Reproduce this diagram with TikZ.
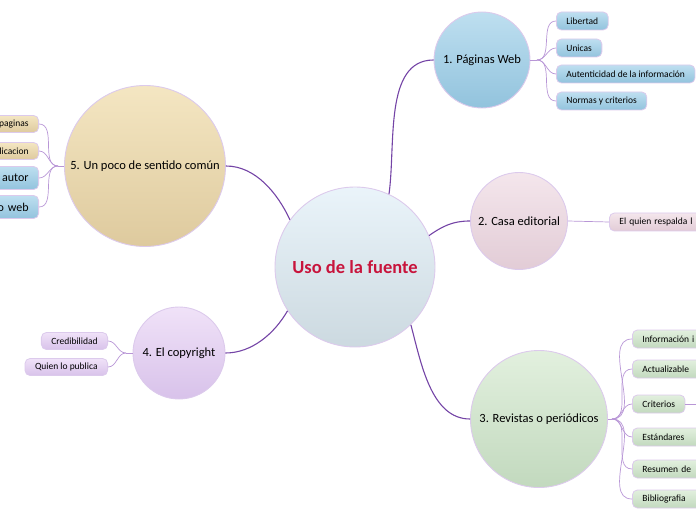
\documentclass[tikz,border=0pt]{standalone}
\usepackage{fontspec}
\setmainfont{Carlito}
\definecolor{mainline}{HTML}{7444A6}
\definecolor{leafline}{HTML}{B896D6}
\definecolor{rim}{HTML}{DCCAEC}
\definecolor{title}{HTML}{C8143C}
\tikzset{
  hub/.style={circle, draw=rim, line width=0.9pt, align=center, font=\fontsize{12.5}{14}\selectfont, text=black},
  centerhub/.style={hub, top color=cA, bottom color=cB},
  leafbox/.style={rounded corners=5pt, draw=rim, line width=0.8pt, inner xsep=10pt, inner ysep=0pt, minimum height=18pt, font=\fontsize{9.5}{10}\selectfont},
  blueleaf/.style={leafbox, top color=bA, bottom color=bB},
  pinkleaf/.style={leafbox, top color=pA, bottom color=pB},
  greenleaf/.style={leafbox, top color=gA, bottom color=gB},
  lavleaf/.style={leafbox, top color=lA, bottom color=lB},
  tanleaf/.style={leafbox, top color=tA, bottom color=tB},
  trunk/.style={draw=mainline, line width=1.1pt},
  twig/.style={draw=leafline, line width=0.7pt},
}
\definecolor{cA}{HTML}{EAF4FA}\definecolor{cB}{HTML}{CCD9E0}
\definecolor{bA}{HTML}{BEDFF0}\definecolor{bB}{HTML}{92C3DD}
\definecolor{pA}{HTML}{F4E6EC}\definecolor{pB}{HTML}{E2CCD6}
\definecolor{gA}{HTML}{E2F0DE}\definecolor{gB}{HTML}{C2D9BE}
\definecolor{lA}{HTML}{F0E2F8}\definecolor{lB}{HTML}{D8C2EA}
\definecolor{tA}{HTML}{F4E6C2}\definecolor{tB}{HTML}{DECA9E}
\begin{document}
\begin{tikzpicture}[x=1pt,y=1pt]
\useasboundingbox (0,0) rectangle (696,520);
\clip (0,0) rectangle (696,520);
% main nodes
\node[centerhub, minimum size=160pt, font=\bfseries\fontsize{18.5}{20}\selectfont, text=title] (c) at (355,253) {Uso de la fuente};
\node[hub, minimum size=96pt, top color=bA, bottom color=bB] (n1) at (482,460) {1. Páginas Web};
\node[hub, minimum size=97pt, top color=pA, bottom color=pB] (n2) at (519,299) {2. Casa editorial};
\node[hub, minimum size=137pt, top color=gA, bottom color=gB] (n3) at (539,101) {3. Revistas o periódicos};
\node[hub, minimum size=92pt, top color=lA, bottom color=lB] (n4) at (179,167) {4. El copyright};
\node[hub, minimum size=161pt, top color=tA, bottom color=tB] (n5) at (145,354) {5. Un poco de sentido común};
% trunks
\draw[trunk] (c.65.7) to[out=82,in=180,looseness=0.9] (n1.west);
\draw[trunk] (c.23) to[out=35,in=180] (n2.west);
\draw[trunk] (c.-46) to[out=-75,in=180,looseness=0.9] (n3.west);
\draw[trunk] (c.144) to[out=115,in=0,looseness=0.9] (n5.east);
\draw[trunk] (c.213) to[out=240,in=0,looseness=0.9] (n4.east);
% leaves of 1
\node[blueleaf, anchor=west] (a1) at (556,499) {Libertad};
\node[blueleaf, anchor=west] (a2) at (556,472) {Unicas};
\node[blueleaf, anchor=west] (a3) at (556,446) {Autenticidad de la información};
\node[blueleaf, anchor=west] (a4) at (556,419) {Normas y criterios};
\coordinate (j1) at (537,460);
\draw[twig] (n1.east) -- (j1);
\foreach \l in {a1,a2,a3,a4} \draw[twig] (j1) to[out=0,in=180] (\l.west);
% leaf of 2
\node[pinkleaf, anchor=west, text width=90pt, align=left] (b1) at (609,298) {El quien respalda l};
\draw[twig] (n2.east) -- (b1.west);
% leaves of 3
\node[greenleaf, anchor=west, text width=70pt, align=left] (d1) at (632,181) {Información i};
\node[greenleaf, anchor=west, text width=70pt, align=left] (d2) at (632,151) {Actualizable};
\node[greenleaf, anchor=west] (d3) at (632,116) {Criterios};
\node[greenleaf, anchor=west, text width=70pt, align=left] (d4) at (632,83) {Estándares};
\node[greenleaf, anchor=west, text width=70pt, align=left] (d5) at (632,51) {Resumen de};
\node[greenleaf, anchor=west, text width=70pt, align=left] (d6) at (632,21) {Bibliografia};
\coordinate (j3) at (612,101);
\draw[twig] (n3.east) -- (j3);
\foreach \l in {d1,d2,d3,d4,d5,d6} \draw[twig] (j3) to[out=0,in=180] (\l.west);
\coordinate (d3x) at (700,116);
\draw[twig] (d3.east) -- (d3x);
% leaves of 4
\node[lavleaf, anchor=east, minimum height=17pt] (e1) at (108,179) {Credibilidad};
\node[lavleaf, anchor=east, minimum height=17pt] (e2) at (108,153) {Quien lo publica};
\coordinate (j4) at (126,167);
\draw[twig] (n4.west) -- (j4);
\foreach \l in {e1,e2} \draw[twig] (j4) to[out=180,in=0] (\l.east);
% leaves of 5
\node[tanleaf, anchor=east, minimum height=17pt, text width=70pt, align=right] (f1) at (39,396) {paginas};
\node[tanleaf, anchor=east, minimum height=17pt, text width=70pt, align=right] (f2) at (39,369) {licacion};
\node[blueleaf, anchor=east, minimum height=23pt, text width=70pt, align=right, font=\fontsize{12}{13}\selectfont] (f3) at (39,342) {autor};
\node[blueleaf, anchor=east, minimum height=23pt, text width=70pt, align=right, font=\fontsize{12}{13}\selectfont] (f4) at (39,313) {o web};
\coordinate (j5) at (58,354);
\draw[twig] (n5.west) -- (j5);
\foreach \l in {f1,f2,f3,f4} \draw[twig] (j5) to[out=180,in=0] (\l.east);
\end{tikzpicture}
\end{document}
